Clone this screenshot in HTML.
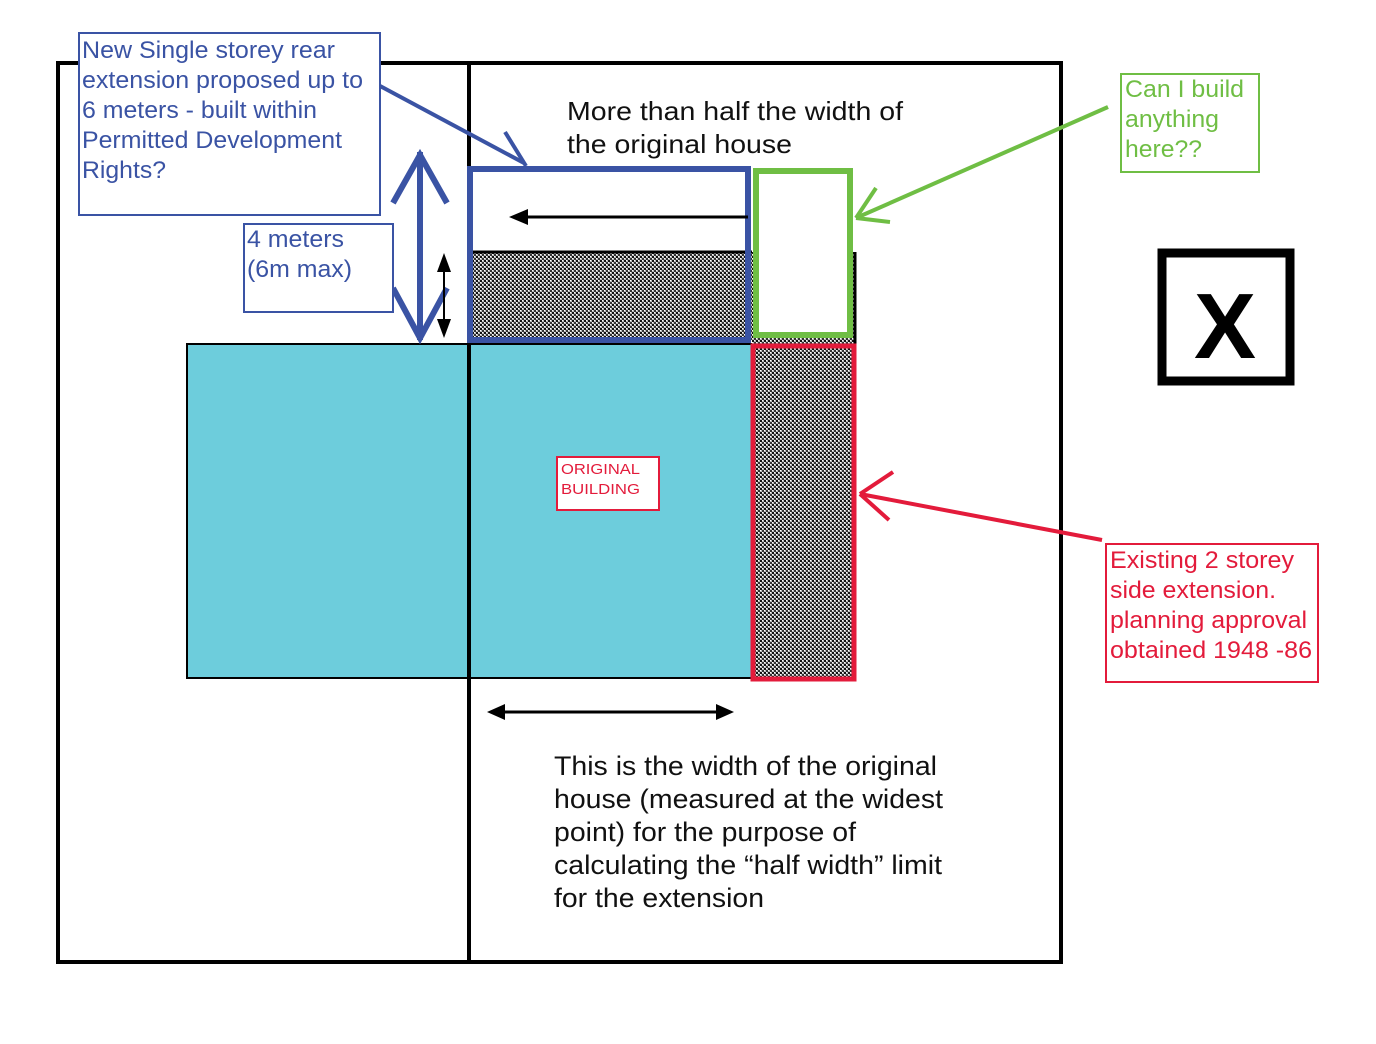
<!DOCTYPE html>
<html><head><meta charset="utf-8"><style>
html,body{margin:0;padding:0;background:#fff;}
svg{display:block;}
text{font-family:"Liberation Sans",sans-serif;}
</style></head><body>
<svg width="1376" height="1044" viewBox="0 0 1376 1044" xmlns="http://www.w3.org/2000/svg">
<defs>
<pattern id="h" width="4" height="4" patternUnits="userSpaceOnUse">
<rect width="4" height="4" fill="#bbb"/>
<rect x="0" y="0" width="2" height="2" fill="#111"/>
<rect x="2" y="2" width="2" height="2" fill="#333"/>
<rect x="2" y="0" width="1" height="1" fill="#fff"/>
<rect x="0" y="2" width="1" height="1" fill="#fff"/>
</pattern>
</defs>
<rect x="58" y="63" width="1003" height="899" fill="none" stroke="#000" stroke-width="4"/>
<line x1="469" y1="63" x2="469" y2="962" stroke="#000" stroke-width="4"/>
<rect x="187" y="344" width="565" height="334" fill="#6dcddc" stroke="#000" stroke-width="2"/>
<line x1="469" y1="344" x2="469" y2="678" stroke="#000" stroke-width="4"/>
<rect x="470" y="252" width="282" height="88" fill="url(#h)"/>
<line x1="470" y1="252" x2="752" y2="252" stroke="#000" stroke-width="3"/>
<rect x="752" y="252" width="103" height="93" fill="url(#h)"/>
<line x1="855" y1="252" x2="855" y2="345" stroke="#000" stroke-width="3"/>
<rect x="754" y="347" width="99" height="331" fill="url(#h)"/>
<rect x="470" y="169" width="278" height="171" fill="none" stroke="#3a53a4" stroke-width="6"/>
<rect x="756" y="171" width="94" height="164" fill="#fff" stroke="#6fbe44" stroke-width="6"/>
<rect x="753" y="346" width="101" height="333" fill="none" stroke="#e31b3b" stroke-width="5"/>
<line x1="748" y1="217" x2="525" y2="217" stroke="#000" stroke-width="3"/>
<polygon points="509,217 528,209 528,225" fill="#000"/>
<line x1="420" y1="152" x2="420" y2="340" stroke="#3a53a4" stroke-width="6"/>
<polyline points="393,203 420,155 447,203" fill="none" stroke="#3a53a4" stroke-width="6"/>
<polyline points="393,288 420,338 447,288" fill="none" stroke="#3a53a4" stroke-width="6"/>
<line x1="444" y1="265" x2="444" y2="327" stroke="#000" stroke-width="2"/>
<polygon points="444,253 437,272 451,272" fill="#000"/>
<polygon points="444,338 437,319 451,319" fill="#000"/>
<line x1="380" y1="86" x2="524" y2="163" stroke="#3a53a4" stroke-width="4"/>
<line x1="505" y1="132" x2="526" y2="166" stroke="#3a53a4" stroke-width="4"/>
<line x1="1108" y1="107" x2="856" y2="218" stroke="#6fbe44" stroke-width="4"/>
<line x1="856" y1="218" x2="876" y2="188" stroke="#6fbe44" stroke-width="4"/>
<line x1="856" y1="218" x2="890" y2="222" stroke="#6fbe44" stroke-width="4"/>
<line x1="1102" y1="540" x2="860" y2="494" stroke="#e31b3b" stroke-width="4"/>
<line x1="860" y1="494" x2="893" y2="472" stroke="#e31b3b" stroke-width="4"/>
<line x1="860" y1="494" x2="889" y2="520" stroke="#e31b3b" stroke-width="4"/>
<line x1="500" y1="712" x2="720" y2="712" stroke="#000" stroke-width="3"/>
<polygon points="487,712 505,704 505,720" fill="#000"/>
<polygon points="734,712 716,704 716,720" fill="#000"/>
<rect x="79" y="33" width="301" height="182" fill="#fff" stroke="#3a53a4" stroke-width="2"/>
<g fill="#3a53a4" font-size="24" lengthAdjust="spacingAndGlyphs">
<text x="82" y="58" textLength="253" lengthAdjust="spacingAndGlyphs">New Single storey rear</text>
<text x="82" y="88" textLength="281" lengthAdjust="spacingAndGlyphs">extension proposed up to</text>
<text x="82" y="118" textLength="235" lengthAdjust="spacingAndGlyphs">6 meters - built within</text>
<text x="82" y="148" textLength="260" lengthAdjust="spacingAndGlyphs">Permitted Development</text>
<text x="82" y="178" textLength="84" lengthAdjust="spacingAndGlyphs">Rights?</text>
</g>
<rect x="244" y="224" width="149" height="88" fill="#fff" stroke="#3a53a4" stroke-width="2"/>
<g fill="#3a53a4" font-size="24">
<text x="247" y="247" textLength="97" lengthAdjust="spacingAndGlyphs">4 meters</text>
<text x="247" y="277" textLength="105" lengthAdjust="spacingAndGlyphs">(6m max)</text>
</g>
<rect x="1121" y="74" width="138" height="98" fill="#fff" stroke="#6fbe44" stroke-width="2"/>
<g fill="#6fbe44" font-size="24">
<text x="1125" y="97" textLength="119" lengthAdjust="spacingAndGlyphs">Can I build</text>
<text x="1125" y="127" textLength="94" lengthAdjust="spacingAndGlyphs">anything</text>
<text x="1125" y="157" textLength="77" lengthAdjust="spacingAndGlyphs">here??</text>
</g>
<rect x="1106" y="544" width="212" height="138" fill="#fff" stroke="#e31b3b" stroke-width="2"/>
<g fill="#e31b3b" font-size="24">
<text x="1110" y="568" textLength="184" lengthAdjust="spacingAndGlyphs">Existing 2 storey</text>
<text x="1110" y="598" textLength="166" lengthAdjust="spacingAndGlyphs">side extension.</text>
<text x="1110" y="628" textLength="197" lengthAdjust="spacingAndGlyphs">planning approval</text>
<text x="1110" y="658" textLength="202" lengthAdjust="spacingAndGlyphs">obtained 1948 -86</text>
</g>
<rect x="557" y="457" width="102" height="53" fill="#fff" stroke="#e31b3b" stroke-width="2"/>
<g fill="#e31b3b" font-size="15">
<text x="561" y="474" textLength="79" lengthAdjust="spacingAndGlyphs">ORIGINAL</text>
<text x="561" y="494" textLength="79" lengthAdjust="spacingAndGlyphs">BUILDING</text>
</g>
<rect x="1162" y="253" width="128" height="128" fill="#fff" stroke="#000" stroke-width="9"/>
<text x="1225" y="358" font-size="93" font-weight="bold" text-anchor="middle" fill="#000">X</text>
<g fill="#111" font-size="26">
<text x="567" y="120" textLength="336" lengthAdjust="spacingAndGlyphs">More than half the width of</text>
<text x="567" y="153" textLength="225" lengthAdjust="spacingAndGlyphs">the original house</text>
</g>
<g fill="#111" font-size="27">
<text x="554" y="775" textLength="383" lengthAdjust="spacingAndGlyphs">This is the width of the original</text>
<text x="554" y="808" textLength="389" lengthAdjust="spacingAndGlyphs">house (measured at the widest</text>
<text x="554" y="841" textLength="302" lengthAdjust="spacingAndGlyphs">point) for the purpose of</text>
<text x="554" y="874" textLength="388" lengthAdjust="spacingAndGlyphs">calculating the “half width” limit</text>
<text x="554" y="907" textLength="210" lengthAdjust="spacingAndGlyphs">for the extension</text>
</g>
</svg>
</body></html>
